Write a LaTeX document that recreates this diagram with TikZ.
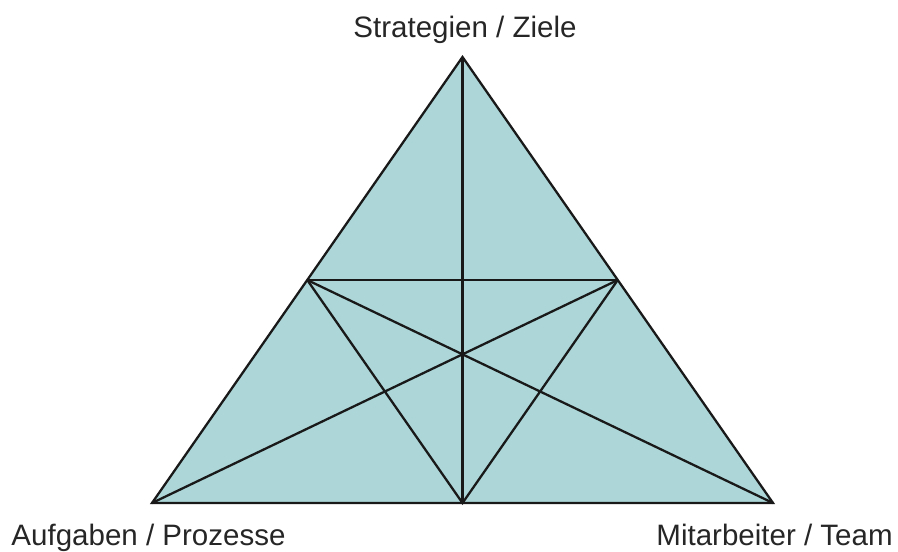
\documentclass[tikz,border=0pt]{standalone}
\usepackage{fontspec}
\setmainfont{Liberation Sans}
\usetikzlibrary{calc}
\definecolor{dreieck}{RGB}{172,214,216}
\begin{document}
\begin{tikzpicture}[x=0.02cm, y=-0.02cm,
		linie/.style={black!90, line width=1.3pt, line join=miter},
		beschriftung/.style={font=\fontsize{16.8}{20}\selectfont, text=black!85, inner sep=0pt, anchor=base}]
		\useasboundingbox (0,0) rectangle (898,551);
		\coordinate (oben) at (462.5,57);
		\coordinate (links) at (152,503);
		\coordinate (rechts) at (773,503);
		\coordinate (ml) at ($(oben)!0.5!(links)$);
		\coordinate (mr) at ($(oben)!0.5!(rechts)$);
		\coordinate (mu) at ($(links)!0.5!(rechts)$);
		\draw[linie, fill = dreieck] (oben) -- (links) -- (rechts) -- cycle;
		\draw[linie] (oben) -- (mu);
		\draw[linie] (ml) -- (mr);
		\draw[linie] (ml) -- (mu) -- (mr);
		\draw[linie] (ml) -- (rechts);
		\draw[linie] (mr) -- (links);
		\node[beschriftung] (ziele) at (465,37) {Strategien / Ziele};
		\node[beschriftung] (prozesse) at (148.5,545) {Aufgaben / Prozesse};
		\node[beschriftung, anchor=base east] (team) at (893,545) {Mitarbeiter / Team};
		\end{tikzpicture}
\end{document}
